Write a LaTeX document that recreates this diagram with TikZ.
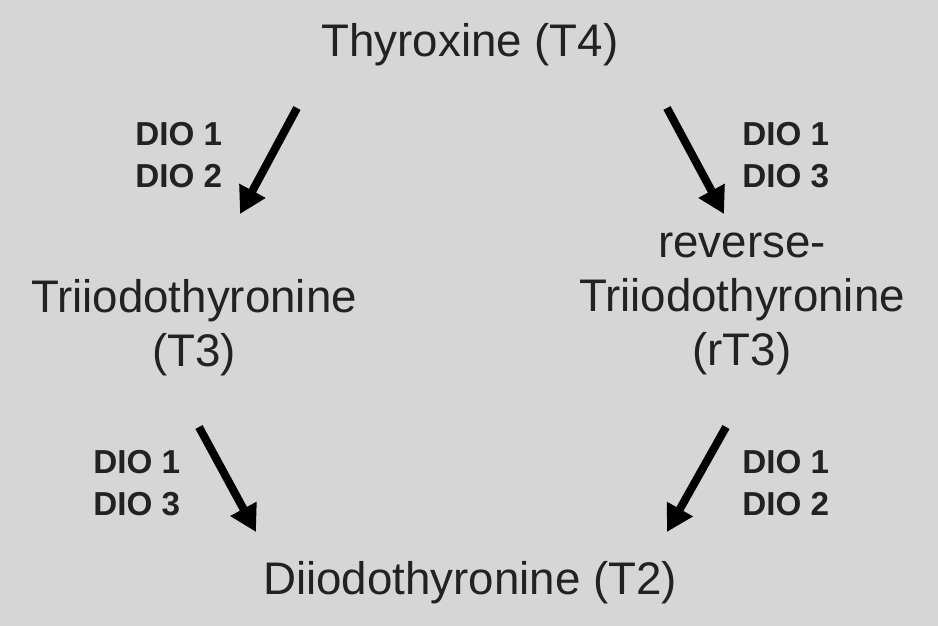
\documentclass[tikz,border=0pt]{standalone}
\usepackage{fontspec}
\setmainfont{Liberation Sans}
\usepackage{tikz}
\usetikzlibrary{arrows.meta,positioning}
\definecolor{bggris}{RGB}{214,214,214}
\definecolor{txtgris}{RGB}{34,34,34}
\tikzset{
  hormone/.style={
    text=txtgris, align=center, inner sep=0pt,
    font=\fontsize{26}{30.6}\selectfont
  },
  enzyme/.style={
    text=txtgris, align=left, anchor=west, inner sep=0pt,
    font=\fontsize{18.9}{24}\selectfont\bfseries
  },
  conv/.style={-{Triangle[width=16pt,length=15pt]}, line width=4.6pt, black}
}
\begin{document}
\begin{tikzpicture}[x=0.02cm, y=-0.02cm]
  % Background
  \fill[bggris] (0,0) rectangle (938,626);
  \useasboundingbox (0,0) rectangle (938,626);

  % Hormones
  \node[hormone] (t4)  at (470,45)  {Thyroxine (T4)};
  \node[hormone] (t3)  at (194,328) {Triiodothyronine\\(T3)};
  \node[hormone] (rt3) at (742,304) {reverse-\\Triiodothyronine\\(rT3)};
  \node[hormone] (t2)  at (470,583) {Diiodothyronine (T2)};

  % Deiodinases
  \node[enzyme] (dioa) at (135,155) {DIO 1\\DIO 2};
  \node[enzyme] (diob) at (742,155) {DIO 1\\DIO 3};
  \node[enzyme] (dioc) at (93,483)  {DIO 1\\DIO 3};
  \node[enzyme] (diod) at (742,483) {DIO 1\\DIO 2};

  % Arrow ends
  \coordinate (t4l) at (297,108);
  \coordinate (t3t) at (240,214);
  \coordinate (t4r) at (667,108);
  \coordinate (rt3t) at (724,214);
  \coordinate (t3b) at (199,427);
  \coordinate (t2l) at (256,532);
  \coordinate (rt3b) at (726,427);
  \coordinate (t2r) at (667,532);

  % Conversions
  \draw[conv] (t4l) -- (t3t);
  \draw[conv] (t4r) -- (rt3t);
  \draw[conv] (t3b) -- (t2l);
  \draw[conv] (rt3b) -- (t2r);
\end{tikzpicture}
\end{document}
